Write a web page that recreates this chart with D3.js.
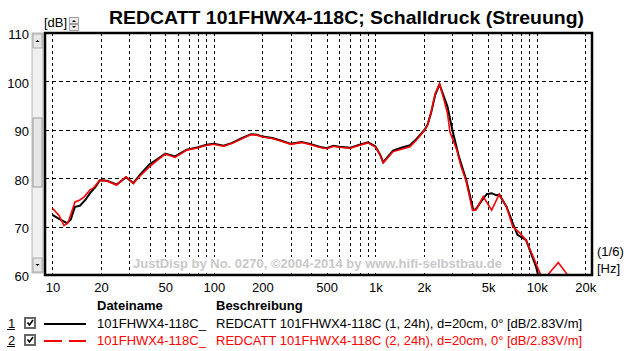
<!DOCTYPE html>
<html>
<head>
<meta charset="utf-8">
<script src="https://cdn.jsdelivr.net/npm/d3@7"></script>
<style>
  body { margin: 0; background: #fff; }
  svg { display: block; font-family: "Liberation Sans", Arial, sans-serif; }
</style>
</head>
<body>
<svg id="chart" width="624" height="351"></svg>
<script>
// ---- data (Hz / dB) ----
const freqBlack = [10, 11, 12.3, 13, 13.8, 14.8, 16, 17.1, 18.5, 19.7, 21.7, 25, 28.6, 31.7, 35, 40, 45, 50, 57.5, 68, 80, 90, 100, 115, 130, 150, 170, 185, 200, 230, 260, 300, 350, 400, 450, 500, 550, 600, 700, 800, 900, 1000, 1070, 1120, 1200, 1290, 1450, 1640, 1800, 2030, 2110, 2220, 2350, 2500, 2600, 2800, 3000, 3300, 3660, 4050, 4200, 4600, 4900, 5260, 5600, 5860, 6500, 7100, 7600, 8600, 9900, 10200, 11000];
const splBlack  = [72.4, 71.6, 70.7, 71.5, 74.1, 74.3, 75.5, 76.9, 78.2, 79.6, 79.5, 78.7, 80.2, 79.0, 80.8, 82.9, 84.0, 85.1, 84.5, 85.9, 86.4, 86.9, 87.1, 86.7, 87.3, 88.3, 89.1, 89.0, 88.6, 88.3, 87.8, 87.1, 87.5, 87.0, 86.5, 86.2, 86.7, 86.5, 86.3, 86.9, 87.4, 86.6, 84.9, 83.3, 84.5, 85.7, 86.3, 86.8, 88.1, 90.1, 91.1, 93.6, 97.2, 99.4, 97.8, 94.8, 90.0, 84.4, 79.6, 73.4, 73.6, 75.5, 76.7, 76.9, 76.5, 76.6, 74.1, 70.7, 68.3, 67.2, 61.7, 60.0, 57.0];

const freqRed = [10, 11, 11.8, 12.5, 13.3, 13.8, 14.8, 15.8, 17.1, 18, 19.7, 21.7, 25, 28.6, 31.7, 35, 40, 45, 50, 57.5, 68, 80, 90, 100, 115, 130, 150, 170, 185, 200, 230, 260, 300, 350, 400, 450, 500, 550, 600, 700, 800, 900, 1000, 1070, 1120, 1200, 1290, 1450, 1640, 1800, 2030, 2110, 2220, 2350, 2500, 2650, 2800, 2900, 3200, 3400, 3660, 4000, 4200, 4660, 5260, 5860, 6500, 7100, 7900, 8600, 9500, 10500, 11200, 11900, 13600, 15300, 16500];
const splRed  = [73.8, 72.3, 70.2, 70.8, 73.5, 75.1, 75.5, 76.2, 77.6, 78.0, 79.6, 79.4, 78.6, 80.3, 78.9, 80.5, 82.4, 83.8, 85.0, 84.3, 85.8, 86.3, 86.8, 87.0, 86.6, 87.2, 88.2, 89.0, 88.9, 88.5, 88.2, 87.7, 87.0, 87.4, 86.9, 86.4, 86.1, 86.6, 86.4, 86.2, 86.8, 87.3, 86.5, 84.8, 83.2, 84.3, 85.5, 86.0, 86.5, 87.9, 90.0, 91.0, 93.7, 97.5, 99.5, 96.5, 93.4, 89.6, 85.8, 82.4, 79.3, 73.4, 73.4, 76.2, 73.4, 76.7, 74.1, 70.0, 68.6, 67.2, 63.8, 60.3, 58.8, 60.3, 62.6, 60.3, 58.0];

const dbTicks = [60, 70, 80, 90, 100, 110];
const hzLabels = [10, 20, 50, 100, 200, 500, 1000, 2000, 5000, 10000, 20000];
const hzGrid = [10, 20, 30, 40, 50, 60, 70, 80, 90, 100, 200, 300, 400, 500, 600, 700, 800, 900,
  1000, 2000, 3000, 4000, 5000, 6000, 7000, 8000, 9000, 10000, 20000];

const titleText = "REDCATT 101FHWX4-118C; Schalldruck (Streuung)";
const watermark = "JustDisp by No. 0270, ©2004-2014 by www.hifi-selbstbau.de";
const legendRows = [
  { nr: "1", file: "101FHWX4-118C_", desc: "REDCATT 101FHWX4-118C (1, 24h), d=20cm, 0° [dB/2.83V/m]", color: "#000", dash: null },
  { nr: "2", file: "101FHWX4-118C_", desc: "REDCATT 101FHWX4-118C (2, 24h), d=20cm, 0° [dB/2.83V/m]", color: "#ff0000", dash: "18,7" }
];

// ---- layout ----
const plot = { left: 45, right: 592, top: 33, bottom: 275 };
const svg = d3.select("#chart");

const x = d3.scaleLog().domain([9, 22000]).range([plot.left, plot.right]);
const y = d3.scaleLinear().domain([60, 110]).range([plot.bottom, plot.top]);

svg.append("rect").attr("width", 624).attr("height", 351).attr("fill", "#fff");

// title
svg.append("text")
  .attr("x", 109).attr("y", 24)
  .attr("textLength", 475).attr("lengthAdjust", "spacingAndGlyphs")
  .style("font-size", "18.5px").style("font-weight", "bold")
  .text(titleText);

// [dB] label + spinner
svg.append("text").attr("x", 44).attr("y", 27).style("font-size", "13px").text("[dB]");
const spin = svg.append("g").attr("transform", "translate(69,17)");
[0, 7].forEach((dy, i) => {
  spin.append("rect").attr("x", 0.5).attr("y", dy + 0.5).attr("width", 9).attr("height", 6)
    .attr("fill", "#ececec").attr("stroke", "#a0a0a0");
  const tri = i === 0 ? "M3,5 L7,5 L5,3 Z" : "M3,2 L7,2 L5,4 Z";
  spin.append("path").attr("d", tri).attr("transform", `translate(0,${dy})`).attr("fill", "#000");
});

// scrollbar left of plot
const sb = svg.append("g");
sb.append("rect").attr("x", 32).attr("y", plot.top).attr("width", 11).attr("height", plot.bottom - plot.top - 2)
  .attr("fill", "#f0f0f0").attr("stroke", "#a8a8a8").attr("stroke-width", 0.8);
sb.append("rect").attr("x", 33).attr("y", 118).attr("width", 9).attr("height", 69)
  .attr("fill", "#e6e6e6").attr("stroke", "#8c8c8c").attr("stroke-width", 0.8);
sb.append("rect").attr("x", 33).attr("y", plot.top + 1).attr("width", 9).attr("height", 14)
  .attr("fill", "#e8e8e8").attr("stroke", "#9a9a9a").attr("stroke-width", 0.8);
sb.append("rect").attr("x", 33).attr("y", plot.bottom - 17).attr("width", 9).attr("height", 14)
  .attr("fill", "#e8e8e8").attr("stroke", "#9a9a9a").attr("stroke-width", 0.8);
sb.append("path").attr("d", `M35.5,${plot.top + 9} L39.5,${plot.top + 9} L37.5,${plot.top + 7} Z`).attr("fill", "#000");
sb.append("path").attr("d", `M35.5,${plot.bottom - 11} L39.5,${plot.bottom - 11} L37.5,${plot.bottom - 9} Z`).attr("fill", "#000");

// grid
const grid = svg.append("g").attr("stroke", "#000").attr("stroke-width", 1);
grid.selectAll("line.v").data(hzGrid).enter().append("line")
  .attr("x1", d => Math.round(x(d)) + 0.5).attr("x2", d => Math.round(x(d)) + 0.5)
  .attr("y1", plot.top).attr("y2", plot.bottom)
  .attr("stroke-dasharray", "3,3");
grid.selectAll("line.h").data(dbTicks.filter(d => d > 60 && d < 110)).enter().append("line")
  .attr("x1", plot.left).attr("x2", plot.right)
  .attr("y1", d => Math.round(y(d)) + 0.5).attr("y2", d => Math.round(y(d)) + 0.5)
  .attr("stroke-dasharray", "4,3");

// watermark
const wm = svg.append("text")
  .attr("x", 133).attr("y", 268)
  .style("font-size", "13px").style("font-weight", "bold")
  .attr("fill", "#c8c8c8")
  .text(watermark);
const bb = wm.node().getBBox();
svg.insert("rect", () => wm.node())
  .attr("x", bb.x - 1).attr("y", bb.y + 1).attr("width", bb.width + 2).attr("height", bb.height - 2)
  .attr("fill", "#fff");

// curves
svg.append("clipPath").attr("id", "clip").append("rect")
  .attr("x", plot.left).attr("y", plot.top)
  .attr("width", plot.right - plot.left).attr("height", plot.bottom - plot.top);

const line = d3.line().x(d => x(d[0])).y(d => y(d[1]));
const curves = svg.append("g").attr("clip-path", "url(#clip)").attr("fill", "none");
curves.append("path").datum(d3.zip(freqBlack, splBlack))
  .attr("d", line).attr("stroke", "#000").attr("stroke-width", 2);
curves.append("path").datum(d3.zip(freqRed, splRed))
  .attr("d", line).attr("stroke", "#ff0000").attr("stroke-width", 1.6);

// frame
svg.append("rect")
  .attr("x", plot.left).attr("y", plot.top)
  .attr("width", plot.right - plot.left).attr("height", plot.bottom - plot.top)
  .attr("fill", "none").attr("stroke", "#000").attr("stroke-width", 2.5);

// axes labels
const yAxis = svg.append("g").attr("transform", "translate(29,0)")
  .call(d3.axisLeft(y).tickValues(dbTicks).tickSize(0).tickPadding(0));
yAxis.select(".domain").remove();
yAxis.selectAll("text").style("font-size", "13px").attr("fill", "#000").attr("dy", "0.45em")
  .style("font-family", "'Liberation Sans', Arial, sans-serif");

const fmtHz = d => d >= 1000 ? (d / 1000) + "k" : String(d);
const xAxis = svg.append("g").attr("transform", `translate(0,${plot.bottom + 8})`)
  .call(d3.axisBottom(x).tickValues(hzLabels).tickFormat(fmtHz).tickSize(0).tickPadding(0));
xAxis.select(".domain").remove();
xAxis.selectAll("text").style("font-size", "13px").attr("fill", "#000")
  .style("font-family", "'Liberation Sans', Arial, sans-serif");

svg.append("text").attr("x", 597).attr("y", 256).style("font-size", "13px").text("(1/6)");
svg.append("text").attr("x", 597).attr("y", 273).style("font-size", "13px").text("[Hz]");

// legend
const lg = svg.append("g").style("font-size", "13px");
lg.append("text").attr("x", 97).attr("y", 310).style("font-weight", "bold").text("Dateiname");
lg.append("text").attr("x", 216).attr("y", 310).style("font-weight", "bold").text("Beschreibung");

legendRows.forEach((r, i) => {
  const by = 328 + i * 17;
  const g = lg.append("g");
  g.append("text").attr("x", 8).attr("y", by).attr("fill", "#000").text(r.nr);
  g.append("line").attr("x1", 7).attr("x2", 15).attr("y1", by + 1.5).attr("y2", by + 1.5)
    .attr("stroke", "#000").attr("stroke-width", 1);
  g.append("rect").attr("x", 25).attr("y", by - 10).attr("width", 10).attr("height", 10)
    .attr("fill", "#fff").attr("stroke", "#666").attr("stroke-width", 2);
  g.append("path").attr("d", `M27.5,${by - 5.5} L29.5,${by - 3} L33,${by - 8}`)
    .attr("fill", "none").attr("stroke", "#000").attr("stroke-width", 1.6);
  g.append("line").attr("x1", 44).attr("x2", 86).attr("y1", by - 4).attr("y2", by - 4)
    .attr("stroke", r.color).attr("stroke-width", 2)
    .attr("stroke-dasharray", r.dash);
  g.append("text").attr("x", 97).attr("y", by).attr("fill", r.color).text(r.file);
  g.append("text").attr("x", 216).attr("y", by).attr("fill", r.color).text(r.desc);
});
</script>
</body>
</html>
